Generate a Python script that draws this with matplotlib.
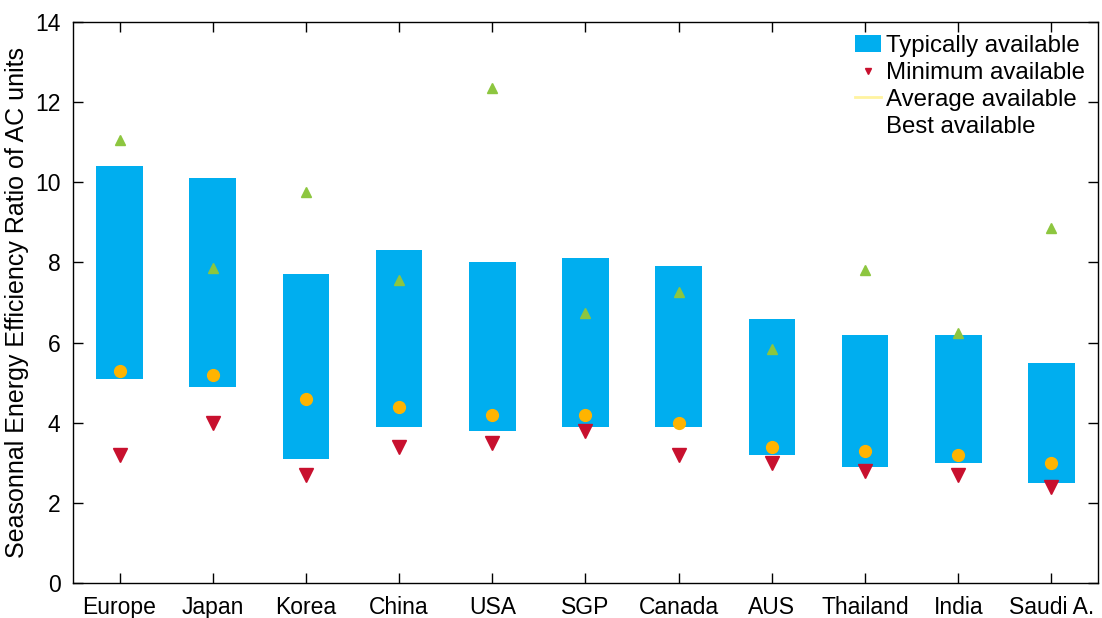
import matplotlib
matplotlib.use('Agg')
import matplotlib.pyplot as plt
from matplotlib.patches import Patch
from matplotlib.lines import Line2D

plt.rcParams['font.family'] = ['Liberation Sans', 'DejaVu Sans']

regions = ['Europe', 'Japan', 'Korea', 'China', 'USA', 'SGP', 'Canada',
           'AUS', 'Thailand', 'India', 'Saudi A.']
typ_low = [5.1, 4.9, 3.1, 3.9, 3.8, 3.9, 3.9, 3.2, 2.9, 3.0, 2.5]
typ_high = [10.4, 10.1, 7.7, 8.3, 8.0, 8.1, 7.9, 6.6, 6.2, 6.2, 5.5]
minimum = [3.2, 4.0, 2.7, 3.4, 3.5, 3.8, 3.2, 3.0, 2.8, 2.7, 2.4]
average = [5.3, 5.2, 4.6, 4.4, 4.2, 4.2, 4.0, 3.4, 3.3, 3.2, 3.0]
best = [11.05, 7.85, 9.75, 7.55, 12.35, 6.75, 7.25, 5.85, 7.8, 6.25, 8.85]

blue = '#00aeef'
red = '#c8102e'
orange = '#ffb400'
green = '#8dc63f'

x = list(range(1, len(regions) + 1))

fig = plt.figure(figsize=(11.02, 6.18), dpi=100)
ax = fig.add_axes([0.0662, 0.0566, 0.9302, 0.9078])

heights = [h - l for h, l in zip(typ_high, typ_low)]
ax.bar(x, heights, bottom=typ_low, width=0.5, color=blue, zorder=2)
ax.plot(x, minimum, linestyle='none', marker='v', color=red,
        markersize=10, zorder=3)
ax.plot(x, average, linestyle='none', marker='o', color=orange,
        markersize=8.5, zorder=3)
ax.plot(x, best, linestyle='none', marker='^', color=green,
        markersize=7, zorder=3)

ax.set_xlim(0.5, 11.5)
ax.set_ylim(0, 14)
ax.set_xticks(x)
ax.set_xticklabels(regions)
ax.set_yticks(range(0, 15, 2))
ax.tick_params(direction='in', top=True, right=True, labelsize=16.5,
               length=7, width=1)
ax.tick_params(axis='x', pad=9)
ax.tick_params(axis='y', pad=9)
ax.set_ylabel('Seasonnal Energy Efficiency Ratio of AC units', fontsize=18,
              labelpad=4)
for s in ax.spines.values():
    s.set_linewidth(1)

handles = [
    Patch(facecolor=blue, edgecolor='none'),
    Line2D([], [], linestyle='none', marker='v', color=red, markersize=4),
    Line2D([], [], color='#fff3a0', linewidth=2),
    Line2D([], [], linestyle='none'),
]
labels = ['Typically available', 'Minimum available', 'Average available',
          'Best available']
ax.legend(handles, labels, loc='upper right', frameon=False, fontsize=17.3,
          handlelength=1.1, handletextpad=0.2, labelspacing=0.2,
          borderaxespad=0.15)

fig.savefig('out.png', dpi=100)
